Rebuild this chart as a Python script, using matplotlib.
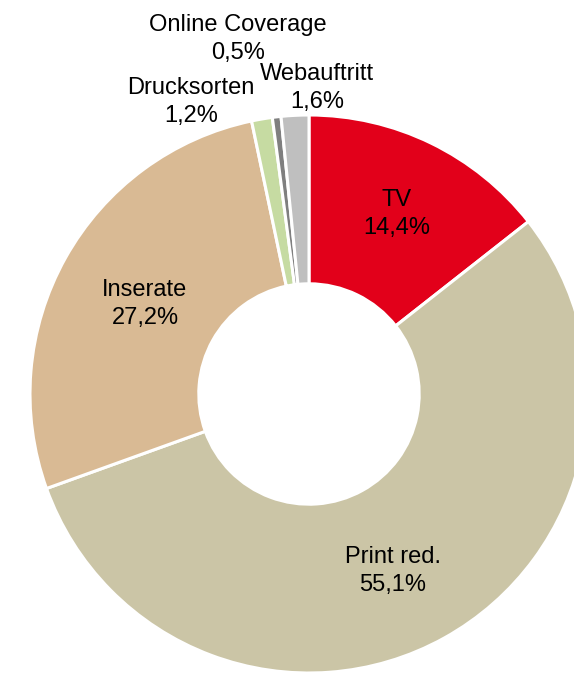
import matplotlib.pyplot as plt

plt.rcParams["font.family"] = ["Liberation Sans", "DejaVu Sans"]

categories = ["TV", "Print red.", "Inserate", "Drucksorten", "Online Coverage", "Webauftritt"]
shares = [14.4, 55.1, 27.2, 1.2, 0.5, 1.6]
colors = ["#E2001A", "#CBC5A6", "#D9BA94", "#C6DBA2", "#7F7F7F", "#BFBFBF"]
# label positions in data units (radius 1 = outer edge)
label_pos = [(0.315, 0.645), (0.301, -0.634), (-0.588, 0.323),
             (-0.423, 1.047), (-0.254, 1.272), (0.029, 1.097)]


def main():
    W, H = 574, 675
    cx, cy, r = 309, 394, 279
    fig = plt.figure(figsize=(W / 100, H / 100), dpi=100)
    ax = fig.add_axes([(cx - r) / W, (H - cy - r) / H, 2 * r / W, 2 * r / H])

    wedges, _ = ax.pie(
        shares,
        colors=colors,
        startangle=90,
        counterclock=False,
        radius=1,
        wedgeprops=dict(width=0.605, edgecolor="white", linewidth=2.2),
    )
    for w in wedges:
        w.set_clip_on(False)

    ax.set_xlim(-1, 1)
    ax.set_ylim(-1, 1)
    ax.set_aspect("equal")
    ax.axis("off")

    for name, val, (x, y) in zip(categories, shares, label_pos):
        txt = f"{name}\n" + f"{val:.1f}%".replace(".", ",")
        ax.text(x, y, txt, ha="center", va="center", fontsize=17, linespacing=1.38, clip_on=False)

    fig.savefig("out.png", dpi=100)


if __name__ == "__main__":
    main()
